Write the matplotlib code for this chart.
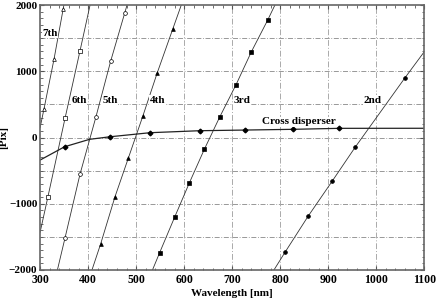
import matplotlib
matplotlib.use("Agg")
from matplotlib import pyplot as plt
from matplotlib.ticker import MultipleLocator

plt.rcParams['font.family'] = ['Liberation Serif', 'DejaVu Serif']
plt.rcParams['font.weight'] = 'bold'

# marker positions (wavelength nm, pixel)
wl7 = [308, 329, 348]
px7 = [430, 1185, 1940]
wl6 = [316, 352, 383]
px6 = [-903, 294, 1306]
wl5 = [352, 383, 416, 447, 476]
px5 = [-1512, -556, 305, 1155, 1875]
wl4 = [426, 456, 484, 514, 544, 576]
px4 = [-1608, -893, -305, 325, 978, 1633]
wl3 = [549, 580, 611, 642, 674, 708, 740, 774]
px3 = [-1738, -1205, -682, -178, 309, 797, 1295, 1774]
wl2 = [810, 858, 908, 956, 1060]
px2 = [-1733, -1190, -662, -148, 903]
wlx = [351, 446, 529, 632, 726, 826, 923]
pxx = [-139, 12, 73, 103, 113, 124, 139]

# where the drawn lines run out at the frame
ends7 = ([300, 350], [150, 2020])
ends6 = ([300, 404], [-1430, 2000])
ends5 = ([336, 481], [-2000, 2000])
ends4 = ([408, 594], [-2000, 2000])
ends3 = ([534, 789], [-2000, 2000])
ends2 = ([787, 1100], [-2000, 1295])
crossx_extra = ([300, 403, 1100], [-340, -27, 140])

orders = [
    (wl7, px7, ends7, '^', 'white', '7th', (320, 1577)),
    (wl6, px6, ends6, 's', 'white', '6th', (381, 566)),
    (wl5, px5, ends5, 'o', 'white', '5th', (446, 566)),
    (wl4, px4, ends4, '^', 'black', '4th', (544, 566)),
    (wl3, px3, ends3, 's', 'black', '3rd', (720, 566)),
    (wl2, px2, ends2, 'o', 'black', '2nd', (993, 566)),
]

fig = plt.figure(figsize=(4.36, 2.99), dpi=100)
ax = fig.add_axes([0.092, 0.097, 0.881, 0.886])

for wl, px, ends, mk, fc, name, pos in orders:
    lx = [ends[0][0]] + wl + [ends[0][1]]
    ly = [ends[1][0]] + px + [ends[1][1]]
    ax.plot(lx, ly, color='#333333', lw=0.6, zorder=2)
    ax.plot(wl, px, ls='none', marker=mk, ms=2.7, mfc=fc, mec='black',
            mew=0.5, zorder=3)
    ax.text(pos[0], pos[1], name, fontsize=8, fontweight='bold',
            ha='center', va='center', zorder=4,
            bbox=dict(fc='white', ec='none', pad=0.3))

cx = sorted(zip(wlx + crossx_extra[0], pxx + crossx_extra[1]))
ax.plot([c[0] for c in cx], [c[1] for c in cx], color='#222222', lw=0.9,
        zorder=2)
ax.plot(wlx, pxx, ls='none', marker='D', ms=2.4, mfc='black', mec='black',
        zorder=3)
ax.text(838, 238, 'Cross disperser', fontsize=8, fontweight='bold',
        ha='center', va='center', zorder=4,
        bbox=dict(fc='white', ec='none', pad=0.3))

ax.set_xlim(300, 1100)
ax.set_ylim(-2000, 2000)
ax.xaxis.set_major_locator(MultipleLocator(100))
ax.xaxis.set_minor_locator(MultipleLocator(20))
ax.yaxis.set_major_locator(MultipleLocator(1000))
ax.yaxis.set_minor_locator(MultipleLocator(100))
for v in range(-1500, 2000, 500):
    ax.axhline(v, color='#888888', lw=0.6, ls=(0, (6, 2, 1, 2)), zorder=1)
for v in range(400, 1100, 100):
    ax.axvline(v, color='#aaaaaa', lw=0.7, ls=(0, (6, 2, 1, 2)), zorder=1)

ax.tick_params(which='both', direction='in', top=True, right=True,
               colors='#555555', labelcolor='black', pad=2)
ax.tick_params(axis='x', labelsize=8.5, pad=3)
ax.tick_params(axis='y', labelsize=8)
ax.tick_params(which='major', length=3)
ax.tick_params(which='minor', length=1.8)
for lab in ax.get_xticklabels() + ax.get_yticklabels():
    lab.set_fontweight('bold')
for s in ax.spines.values():
    s.set_color('#666666')
    s.set_linewidth(1.2)

ax.set_xlabel('Wavelength [nm]', fontsize=8, fontweight='bold', labelpad=2)
ax.set_ylabel('[Pix]', fontsize=8, fontweight='bold')
ax.yaxis.set_label_coords(-0.082, 0.5)

fig.savefig('out.png', dpi=100)
